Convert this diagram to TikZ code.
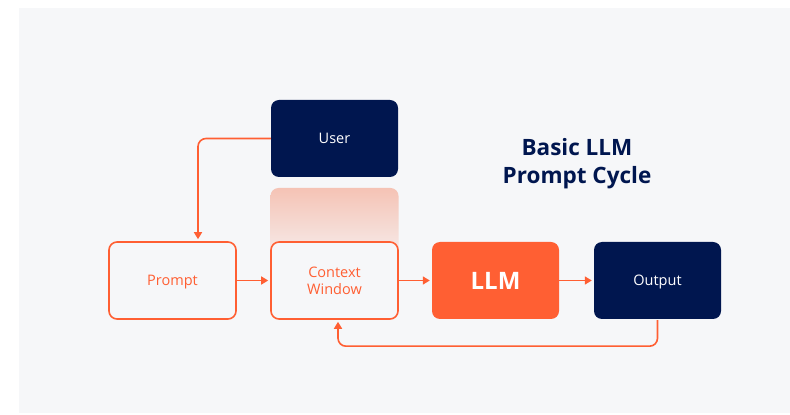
\documentclass[tikz,border=0pt]{standalone}
\usepackage{fontspec}
\setmainfont{Open Sans}
\usetikzlibrary{arrows.meta}
\definecolor{navy}{HTML}{00164F}
\definecolor{flame}{HTML}{FF5F33}
\definecolor{paper}{HTML}{F6F7F9}
\definecolor{blush}{HTML}{F5C3B5}
\tikzset{
  box/.style={rounded corners=8pt, minimum width=127pt, minimum height=77pt,
    align=center, font=\fontsize{14.5}{17}\selectfont, inner sep=0pt, text depth=-2pt},
  darkbox/.style={box, fill=navy, text=white},
  linebox/.style={box, draw=flame, line width=1.6pt, fill=paper, text=flame},
  hotbox/.style={box, fill=flame, text=white, font=\fontsize{24}{28}\selectfont\bfseries},
  flow/.style={draw=flame, line width=1.6pt, -{Triangle[length=7pt,width=8pt]}},
}
\begin{document}
\begin{tikzpicture}[x=1pt,y=1pt]
\useasboundingbox (0,0) rectangle (790,415);
\fill[white] (0,0) rectangle (790,415);
\fill[paper] (19,2) rectangle (790,407);
% fading strip above the context window
\shade[top color=blush, bottom color=paper, rounded corners=8pt] (270.5,227) rectangle (398.5,140);
\node[darkbox] (user) at (334.5,276.5) {User};
\node[linebox] (prompt) at (172.5,134.5) {Prompt};
\node[linebox] (context) at (334.5,134.5) {Context\\Window};
\node[hotbox] (llm) at (495.5,134.5) {LLM};
\node[darkbox] (output) at (657.5,134.5) {Output};
\node[text=navy, align=center, font=\fontsize{22.5}{28}\selectfont\bfseries] (title) at (577,251) {Basic LLM\\Prompt Cycle};
\coordinate (turn) at ([xshift=25.5pt]prompt.north);
\coordinate (back) at ([xshift=3.5pt]context.south);
\draw[flow, rounded corners=8pt] (user.west) -| ([yshift=2pt]turn);
\draw[flow] (prompt.east) -- ([xshift=-2pt]context.west);
\draw[flow] (context.east) -- ([xshift=-2pt]llm.west);
\draw[flow] (llm.east) -- ([xshift=-2pt]output.west);
\draw[flow, rounded corners=8pt] ([yshift=-1pt]output.south) -- ++(0,-26) -| ([yshift=-2pt]back);
\end{tikzpicture}
\end{document}
